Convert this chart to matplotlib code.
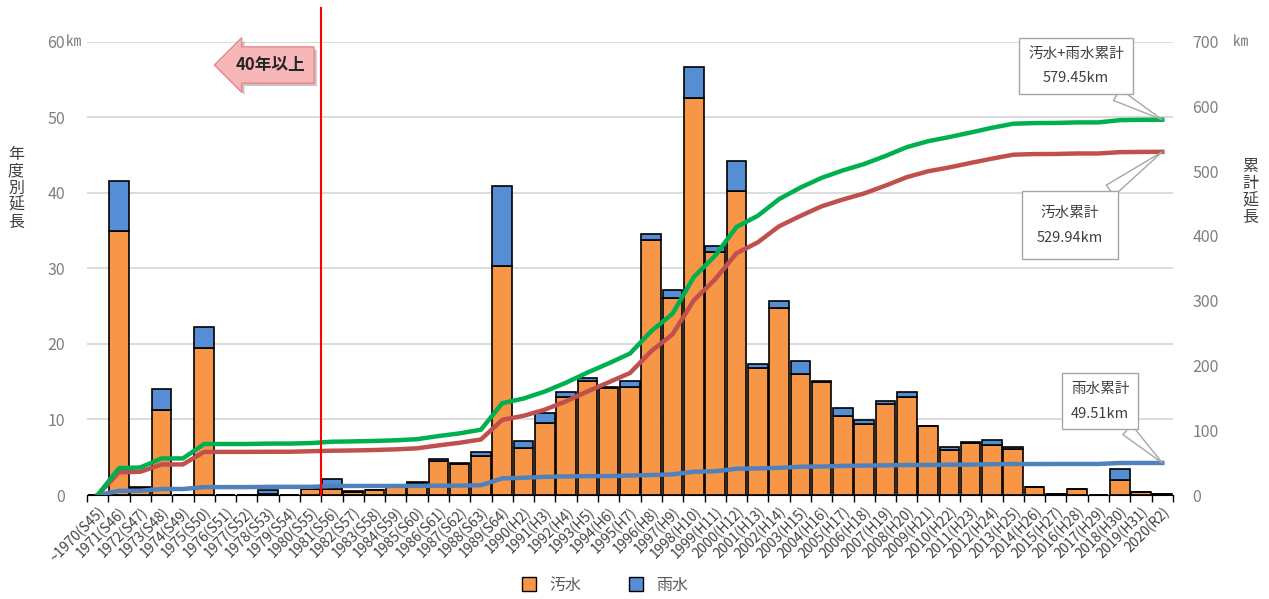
import matplotlib.pyplot as plt
import matplotlib.patheffects as pe
import numpy as np
from matplotlib.patches import Patch

plt.rcParams['font.family'] = ['Noto Sans CJK JP', 'DejaVu Sans']

years = ['~1970(S45)', '1971(S46)', '1972(S47)', '1973(S48)', '1974(S49)',
         '1975(S50)', '1976(S51)', '1977(S52)', '1978(S53)', '1979(S54)',
         '1980(S55)', '1981(S56)', '1982(S57)', '1983(S58)', '1984(S59)',
         '1985(S60)', '1986(S61)', '1987(S62)', '1988(S63)', '1989(S64)',
         '1990(H2)', '1991(H3)', '1992(H4)', '1993(H5)', '1994(H6)',
         '1995(H7)', '1996(H8)', '1997(H9)', '1998(H10)', '1999(H11)',
         '2000(H12)', '2001(H13)', '2002(H14)', '2003(H15)', '2004(H16)',
         '2005(H17)', '2006(H18)', '2007(H19)', '2008(H20)', '2009(H21)',
         '2010(H22)', '2011(H23)', '2012(H24)', '2013(H25)', '2014(H26)',
         '2015(H27)', '2016(H28)', '2017(H29)', '2018(H30)', '2019(H31)',
         '2020(R2)']

# 年度別延長 (km)
sewage = [0.0, 35.0, 0.9, 11.3, 0.0,
          19.4, 0.0, 0.0, 0.2, 0.0,
          0.8, 0.8, 0.4, 0.7, 1.0,
          1.6, 4.5, 4.1, 5.1, 30.3,
          6.2, 9.5, 13.0, 15.1, 14.2,
          14.3, 33.8, 26.1, 52.5, 32.2,
          40.3, 16.8, 24.8, 16.0, 14.9,
          10.5, 9.4, 12.1, 13.0, 9.1,
          6.0, 6.9, 6.6, 6.1, 1.0,
          0.1, 0.8, 0.0, 2.0, 0.4,
          0.14]
storm = [0.0, 6.5, 0.1, 2.7, 0.0,
         2.9, 0.0, 0.0, 0.4, 0.0,
         0.0, 1.3, 0.1, 0.0, 0.0,
         0.1, 0.3, 0.1, 0.6, 10.6,
         0.95, 1.4, 0.7, 0.4, 0.1,
         0.8, 0.8, 1.0, 4.1, 0.7,
         3.9, 0.5, 0.9, 1.8, 0.2,
         1.0, 0.5, 0.3, 0.6, 0.1,
         0.4, 0.1, 0.7, 0.2, 0.0,
         0.1, 0.0, 0.0, 1.5, 0.06,
         0.0]

n = len(years)
x = np.arange(n)
cum_sewage = np.cumsum(sewage)
cum_storm = np.cumsum(storm)
cum_total = cum_sewage + cum_storm

c_orange = '#f79646'
c_blue = '#558ed5'
gray = '#7f7f7f'

fig = plt.figure(figsize=(12.69, 5.99), dpi=100)
ax = fig.add_axes([0.0686, 0.1736, 0.8557, 0.7568])

ax.bar(x, sewage, width=0.92, color=c_orange, edgecolor='black', linewidth=1.2, zorder=2)
ax.bar(x, storm, bottom=sewage, width=0.92, color=c_blue, edgecolor='black', linewidth=1.2, zorder=2)

ax.set_xlim(-0.5, n - 0.5)
ax.set_ylim(0, 60)
ax.set_xticks(x)
ax.set_xticklabels(years, rotation=45, ha='right', rotation_mode='anchor', fontsize=10, color='#404040')
ax.set_xticks(np.arange(n + 1) - 0.5, minor=True)
ax.tick_params(axis='x', which='major', length=0, pad=7)
ax.tick_params(axis='x', which='minor', length=5, width=1, color='black')
ax.set_yticks(np.arange(0, 61, 10))
ax.tick_params(axis='y', length=0, pad=16, labelsize=11.5, labelcolor=gray)
ax.yaxis.grid(True, color='#d9d9d9', lw=1.3)
ax.set_axisbelow(True)
for s in ['top', 'right', 'left']:
    ax.spines[s].set_visible(False)
ax.spines['bottom'].set_color('black')

# cumulative lines on the right axis
ax2 = ax.twinx()
ax2.set_ylim(0, 700)
ax2.set_yticks(np.arange(0, 701, 100))
ax2.tick_params(axis='y', length=0, pad=14, labelsize=11.5, labelcolor=gray)
for s in ax2.spines.values():
    s.set_visible(False)
ax2.plot(x, cum_storm, color='#4f81bd', lw=3.2)
ax2.plot(x, cum_sewage, color='#c0504d', lw=3.2)
ax2.plot(x, cum_total, color='#00b050', lw=3.2)

ax2.axvline(10.5, ymin=0, ymax=1.074, color='#ff0000', lw=1.5, clip_on=False)

fig.text(66 / 1269, 1 - 42 / 599, '㎞', ha='left', va='center', fontsize=11, color=gray)
fig.text(1240 / 1269, 1 - 41 / 599, '㎞', ha='center', va='center', fontsize=11, color=gray)
fig.text(16 / 1269, 1 - 188 / 599, '\n'.join('年度別延長'), ha='center', va='center',
         fontsize=11.5, linespacing=1.0, color='#404040')
fig.text(1250 / 1269, 1 - 192 / 599, '\n'.join('累計延長'), ha='center', va='center',
         fontsize=11.5, linespacing=1.0, color='#404040')

arrow = fig.text(270 / 1269, 1 - 65 / 599, '40年以上', ha='center', va='center', fontsize=12,
                 weight='bold', color='#262626',
                 bbox=dict(boxstyle='larrow,pad=0.55', fc='#f7b7b9', ec='#e8868b', lw=1))
arrow.get_bbox_patch().set_path_effects([pe.SimplePatchShadow(offset=(2, -2), alpha=0.3), pe.Normal()])

callouts = [
    ('汚水+雨水累計', cum_total[-1], (1076, 533), (0.75, 0), 0.6),
    ('汚水累計', cum_sewage[-1], (1070, 374), (0.8, 1), 1.0),
    ('雨水累計', cum_storm[-1], (1100, 198), (0.8, 0), 0.6),
]
for name, val, pos, rel, pad in callouts:
    ax2.annotate(f'{name}\n{val:.2f}km', xy=(x[-1], val), xytext=pos,
                 textcoords='figure pixels', ha='center', va='center',
                 fontsize=10.5, linespacing=2.0, color='#404040',
                 bbox=dict(boxstyle=f'square,pad={pad}', fc='white', ec='#a6a6a6', lw=1),
                 arrowprops=dict(arrowstyle='wedge,tail_width=0.9', fc='white',
                                 ec='#a6a6a6', lw=1, relpos=rel,
                                 shrinkA=0, shrinkB=0))

handles = [Patch(fc=c_orange, ec='black', label='汚水'),
           Patch(fc=c_blue, ec='black', label='雨水')]
fig.legend(handles=handles, loc='center', bbox_to_anchor=(605 / 1269, 1 - 585 / 599),
           ncol=2, frameon=False, fontsize=11.5, handlelength=0.9, handleheight=0.9,
           columnspacing=3, labelcolor='#595959')

fig.savefig('out.png', dpi=100)
